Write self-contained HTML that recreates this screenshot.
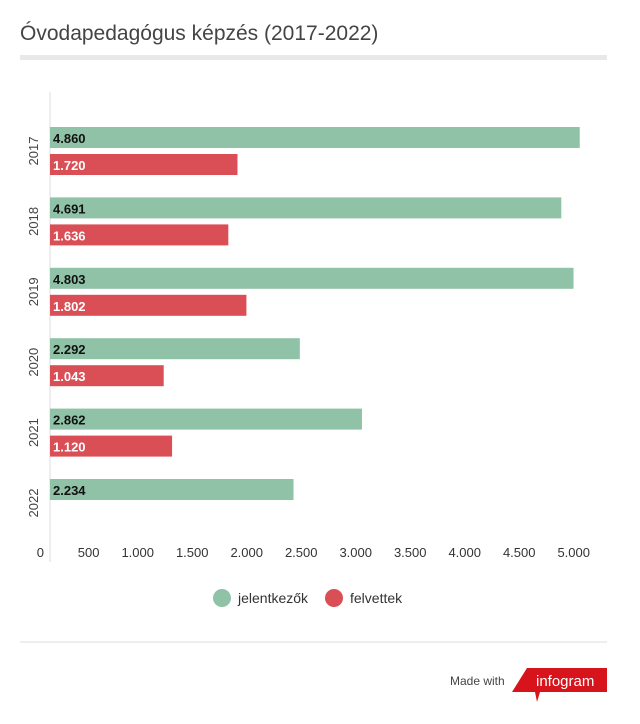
<!DOCTYPE html>
<html><head><meta charset="utf-8"><style>
body{margin:0;background:#fff;font-family:"Liberation Sans",sans-serif;}
</style></head><body>
<svg width="640" height="719" xmlns="http://www.w3.org/2000/svg">
<text x="20" y="40" font-size="21" fill="#444">Óvodapedagógus képzés (2017-2022)</text>
<rect x="20" y="55" width="587" height="5" fill="#e8e8e8"/>
<line x1="50" y1="92" x2="50" y2="562" stroke="#ddd"/>
<g id="bars"></g>
<g id="ticks"></g>
<g>
<circle cx="222" cy="598" r="9" fill="#8fc2a6"/>
<text x="238" y="603" font-size="14" fill="#333">jelentkezők</text>
<circle cx="334" cy="598" r="9" fill="#d94f55"/>
<text x="350" y="603" font-size="14" fill="#333">felvettek</text>
</g>
<rect x="20" y="641" width="587" height="2" fill="#eee"/>
<text x="450" y="685" font-size="12" fill="#444">Made with</text>
<polygon points="527,668 607,668 607,692 540,692 537,702 535,692 512,692" fill="#d7141b"/>
<text x="536" y="686" font-size="15" fill="#fff">infogram</text>
</svg>
<script>
const years=["2017","2018","2019","2020","2021","2022"];
const jelentkezok=[4860,4691,4803,2292,2862,2234];
const felvettek=[1720,1636,1802,1043,1120,null];
const tickValues=[0,500,1000,1500,2000,2500,3000,3500,4000,4500,5000];
const tickLabels=["0","500","1.000","1.500","2.000","2.500","3.000","3.500","4.000","4.500","5.000"];
const NS="http://www.w3.org/2000/svg";
const x=v=>50+v*0.109;
const rowY=i=>127+i*70.4;
function fmt(v){return v.toLocaleString('de-DE');}
const bars=document.getElementById('bars');
function mk(t,a){const e=document.createElementNS(NS,t);for(const k in a)e.setAttribute(k,a[k]);return e;}
years.forEach((yr,i)=>{
  const y0=rowY(i);
  const lab=mk('text',{x:0,y:0,'font-size':13,fill:'#444',transform:`translate(38,${y0+24}) rotate(-90)`,'text-anchor':'middle'});
  lab.textContent=yr;
  
  
  bars.appendChild(lab);
  [[jelentkezok[i],'#8fc2a6','#111',0,'jelentkezok'],[felvettek[i],'#d94f55','#fff',27,'felvettek']].forEach(([v,c,tc,off,nm])=>{
    if(v==null)return;
    const r=mk('rect',{x:50,y:y0+off,width:x(v)-50,height:21,fill:c});
    
    
    bars.appendChild(r);
    const t=mk('text',{x:53,y:y0+off+16,'font-size':13,'font-weight':'bold',fill:tc});
    t.textContent=fmt(v);
    
    
    bars.appendChild(t);
  });
});
const ticks=document.getElementById('ticks');
tickValues.forEach((v,i)=>{
  const t=mk('text',{x:v===0?44:x(v)-5,y:557,'font-size':13,fill:'#333','text-anchor':'end'});
  t.textContent=tickLabels[i];
  
  
  ticks.appendChild(t);
});
</script>
</body></html>
